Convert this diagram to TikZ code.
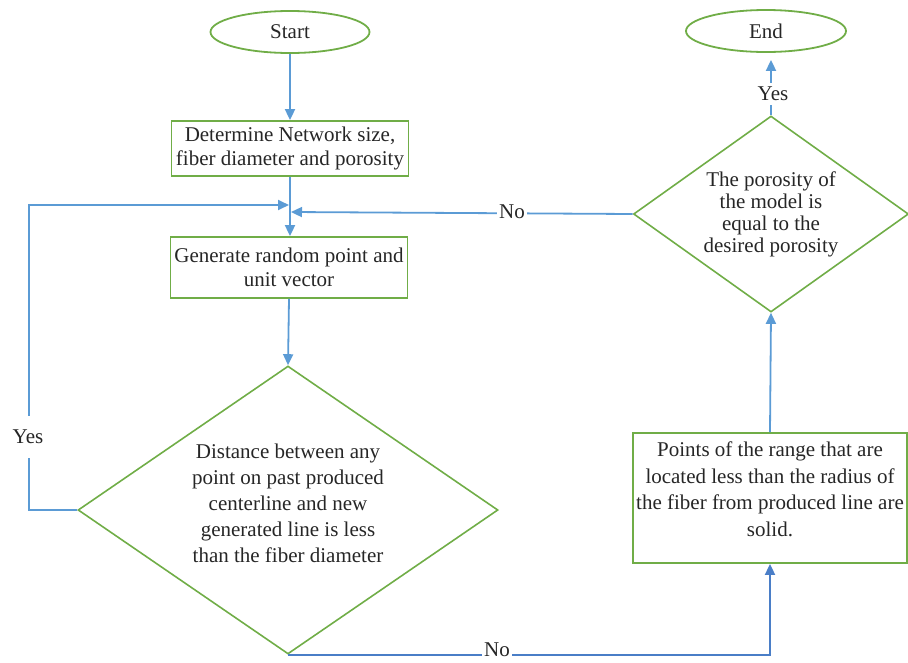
\documentclass[tikz,border=0pt]{standalone}
\usepackage{fontspec}
\setmainfont{Liberation Serif}
\usetikzlibrary{shapes.geometric,arrows.meta}
\definecolor{gborder}{HTML}{70AD47}
\definecolor{barrow}{HTML}{5B9BD5}
\definecolor{barrowd}{HTML}{4A7EC7}
\begin{document}
\begin{tikzpicture}[x=1pt,y=-1pt,
  every node/.style={font=\rmfamily\fontsize{21}{24}\selectfont, text=black!85},
  term/.style={ellipse, draw=gborder, line width=1.8pt, minimum width=159pt, minimum height=42pt, inner sep=0pt},
  procbox/.style={rectangle, draw=gborder, line width=1.8pt, align=center, inner sep=0pt},
  decis/.style={diamond, draw=gborder, line width=1.6pt, align=center, inner sep=0pt},
  txt/.style={align=center, inner sep=0pt},
  arr/.style={draw=barrow, line width=1.8pt, -{Triangle[length=11pt,width=10pt]}},
  lbl/.style={fill=white, inner xsep=2pt, inner ysep=6pt}
]
\useasboundingbox (0,0) rectangle (908,662);

\node[term] (start) at (290,32) {Start};
\node[term, minimum width=160pt] (end) at (766,31) {End};

\node[procbox, minimum width=237pt, minimum height=55pt] (box1) at (290,148.5)
  {Determine Network size,\\fiber diameter and porosity};
\node[procbox, minimum width=237pt, minimum height=61pt] (box2) at (289,267.5)
  {Generate random point and\\unit vector};

\node[decis, minimum width=420pt, minimum height=288pt, aspect=1.46] (d1) at (288,510) {};
\node[txt, font=\rmfamily\fontsize{21}{26}\selectfont] (d1t) at (288,503)
  {Distance between any\\point on past produced\\centerline and new\\generated line is less\\than the fiber diameter};

\node[decis, minimum width=275pt, minimum height=196pt, aspect=1.4,
      font=\rmfamily\fontsize{21}{22}\selectfont] (d2) at (771,214)
  {The porosity of\\the model is\\equal to the\\desired porosity};

\node[procbox, minimum width=274pt, minimum height=130pt] (box3) at (770,498) {};
\node[txt, font=\rmfamily\fontsize{21}{26.5}\selectfont] (box3t) at (770,489)
  {Points of the range that are\\located less than the radius of\\the fiber from produced line are\\solid.};

% junction coordinates
\coordinate (jl) at (289,205);
\coordinate (jr) at (291,212);
\coordinate (lc) at (29,205);

% main flow
\draw[arr] (start.south) -- (start.south |- box1.north);
\draw[arr] (box1.south) -- (box1.south |- box2.north);
\draw[arr] (box2.south) -- (d1.north);

% yes loop
\draw[arr] (d1.west) -| (lc) -- (jl);
\node[lbl, inner ysep=14pt] (yes1) at (28,437) {Yes};

% no from d2
\draw[arr] (d2.west) -- (jr);
\node[lbl] (no2) at (512,212) {No};

% no from d1
\draw[arr, draw=barrowd] (d1.south) -| (box3.south);
\node[lbl, inner ysep=1pt] (no1) at (497,650) {No};

% box3 to d2
\draw[arr] (box3.north) -- (d2.south);

% d2 to end
\draw[arr, shorten >=7pt] (d2.north) -- (d2.north |- end.south);
\node[lbl, inner ysep=4pt] (yes2) at (773,94) {Yes};
\end{tikzpicture}
\end{document}
